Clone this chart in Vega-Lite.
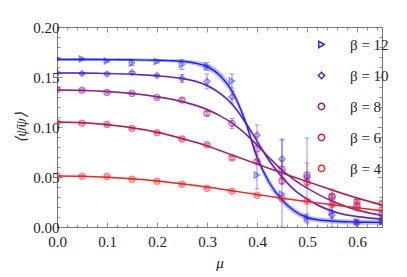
{
"$schema":"https://vega.github.io/schema/vega-lite/v6.json",
"width":325,"height":200,
"autosize":{"type":"none"},
"padding":{"left":57,"top":27,"right":25,"bottom":50},
"background":"white",
"config":{
 "view":{"stroke":"#777","strokeWidth":1},
 "font":"Liberation Serif",
 "axis":{"domain":false,"grid":false,"tickColor":"#777","tickWidth":0.8,"labelFont":"Liberation Serif","labelFontSize":15,"labelColor":"#222","titleFont":"Liberation Serif","titleFontWeight":"normal","titleColor":"#222","labelOverlap":false,"labelFlush":false},
 "legend":{"labelFont":"Liberation Serif","labelFontSize":15,"labelColor":"#222","symbolStrokeWidth":1.5,"symbolSize":40,"rowPadding":15,"labelOffset":21,"symbolOpacity":1}
},
"datasets":{
"curves":[
{"b":"β = 12","m":0,"v":0.1675,"lo":0.166,"hi":0.169},
{"b":"β = 12","m":0.05,"v":0.1675,"lo":0.166,"hi":0.169},
{"b":"β = 12","m":0.1,"v":0.1674,"lo":0.1659,"hi":0.1689},
{"b":"β = 12","m":0.15,"v":0.1672,"lo":0.1657,"hi":0.1687},
{"b":"β = 12","m":0.2,"v":0.1668,"lo":0.1653,"hi":0.1683},
{"b":"β = 12","m":0.225,"v":0.1664,"lo":0.1648,"hi":0.168},
{"b":"β = 12","m":0.25,"v":0.1657,"lo":0.164,"hi":0.1674},
{"b":"β = 12","m":0.275,"v":0.164,"lo":0.1618,"hi":0.1662},
{"b":"β = 12","m":0.3,"v":0.1605,"lo":0.1575,"hi":0.1635},
{"b":"β = 12","m":0.325,"v":0.152,"lo":0.148,"hi":0.156},
{"b":"β = 12","m":0.35,"v":0.136,"lo":0.132,"hi":0.14},
{"b":"β = 12","m":0.375,"v":0.108,"lo":0.104,"hi":0.112},
{"b":"β = 12","m":0.4,"v":0.07,"lo":0.066,"hi":0.074},
{"b":"β = 12","m":0.425,"v":0.044,"lo":0.04,"hi":0.048},
{"b":"β = 12","m":0.45,"v":0.027,"lo":0.0235,"hi":0.0305},
{"b":"β = 12","m":0.475,"v":0.016,"lo":0.013,"hi":0.019},
{"b":"β = 12","m":0.5,"v":0.0095,"lo":0.0068,"hi":0.0122},
{"b":"β = 12","m":0.525,"v":0.007,"lo":0.0045,"hi":0.0095},
{"b":"β = 12","m":0.55,"v":0.006,"lo":0.0035,"hi":0.0085},
{"b":"β = 12","m":0.575,"v":0.0053,"lo":0.0028,"hi":0.0078},
{"b":"β = 12","m":0.6,"v":0.005,"lo":0.0025,"hi":0.0075},
{"b":"β = 12","m":0.625,"v":0.0047,"lo":0.0022,"hi":0.0072},
{"b":"β = 12","m":0.65,"v":0.0045,"lo":0.002,"hi":0.007},
{"b":"β = 10","m":0,"v":0.154,"lo":0.1532,"hi":0.1548},
{"b":"β = 10","m":0.05,"v":0.154,"lo":0.1532,"hi":0.1548},
{"b":"β = 10","m":0.1,"v":0.1535,"lo":0.1527,"hi":0.1543},
{"b":"β = 10","m":0.15,"v":0.1528,"lo":0.152,"hi":0.1536},
{"b":"β = 10","m":0.2,"v":0.1512,"lo":0.1503,"hi":0.1521},
{"b":"β = 10","m":0.25,"v":0.1485,"lo":0.1475,"hi":0.1495},
{"b":"β = 10","m":0.275,"v":0.146,"lo":0.1449,"hi":0.1471},
{"b":"β = 10","m":0.3,"v":0.1415,"lo":0.1403,"hi":0.1427},
{"b":"β = 10","m":0.325,"v":0.134,"lo":0.1325,"hi":0.1355},
{"b":"β = 10","m":0.35,"v":0.123,"lo":0.1212,"hi":0.1248},
{"b":"β = 10","m":0.375,"v":0.106,"lo":0.104,"hi":0.108},
{"b":"β = 10","m":0.4,"v":0.086,"lo":0.084,"hi":0.088},
{"b":"β = 10","m":0.425,"v":0.066,"lo":0.064,"hi":0.068},
{"b":"β = 10","m":0.45,"v":0.05,"lo":0.0482,"hi":0.0518},
{"b":"β = 10","m":0.475,"v":0.037,"lo":0.0354,"hi":0.0386},
{"b":"β = 10","m":0.5,"v":0.028,"lo":0.0266,"hi":0.0294},
{"b":"β = 10","m":0.525,"v":0.021,"lo":0.0198,"hi":0.0222},
{"b":"β = 10","m":0.55,"v":0.016,"lo":0.0149,"hi":0.0171},
{"b":"β = 10","m":0.575,"v":0.0125,"lo":0.0115,"hi":0.0135},
{"b":"β = 10","m":0.6,"v":0.0105,"lo":0.0095,"hi":0.0115},
{"b":"β = 10","m":0.625,"v":0.009,"lo":0.008,"hi":0.01},
{"b":"β = 10","m":0.65,"v":0.008,"lo":0.007,"hi":0.009},
{"b":"β = 8","m":0,"v":0.137,"lo":0.1362,"hi":0.1378},
{"b":"β = 8","m":0.05,"v":0.1366,"lo":0.1358,"hi":0.1374},
{"b":"β = 8","m":0.1,"v":0.1355,"lo":0.1347,"hi":0.1363},
{"b":"β = 8","m":0.15,"v":0.1335,"lo":0.1327,"hi":0.1343},
{"b":"β = 8","m":0.2,"v":0.1303,"lo":0.1295,"hi":0.1311},
{"b":"β = 8","m":0.25,"v":0.1255,"lo":0.1246,"hi":0.1264},
{"b":"β = 8","m":0.3,"v":0.1175,"lo":0.1165,"hi":0.1185},
{"b":"β = 8","m":0.325,"v":0.1115,"lo":0.1104,"hi":0.1126},
{"b":"β = 8","m":0.35,"v":0.104,"lo":0.1028,"hi":0.1052},
{"b":"β = 8","m":0.375,"v":0.094,"lo":0.0927,"hi":0.0953},
{"b":"β = 8","m":0.4,"v":0.082,"lo":0.0806,"hi":0.0834},
{"b":"β = 8","m":0.425,"v":0.069,"lo":0.0676,"hi":0.0704},
{"b":"β = 8","m":0.45,"v":0.057,"lo":0.0557,"hi":0.0583},
{"b":"β = 8","m":0.475,"v":0.047,"lo":0.0458,"hi":0.0482},
{"b":"β = 8","m":0.5,"v":0.039,"lo":0.0379,"hi":0.0401},
{"b":"β = 8","m":0.525,"v":0.032,"lo":0.031,"hi":0.033},
{"b":"β = 8","m":0.55,"v":0.026,"lo":0.0251,"hi":0.0269},
{"b":"β = 8","m":0.575,"v":0.021,"lo":0.0202,"hi":0.0218},
{"b":"β = 8","m":0.6,"v":0.017,"lo":0.0162,"hi":0.0178},
{"b":"β = 8","m":0.625,"v":0.014,"lo":0.0133,"hi":0.0147},
{"b":"β = 8","m":0.65,"v":0.0115,"lo":0.0108,"hi":0.0122},
{"b":"β = 6","m":0,"v":0.105,"lo":0.1043,"hi":0.1057},
{"b":"β = 6","m":0.05,"v":0.1042,"lo":0.1035,"hi":0.1049},
{"b":"β = 6","m":0.1,"v":0.1022,"lo":0.1015,"hi":0.1029},
{"b":"β = 6","m":0.15,"v":0.0993,"lo":0.0986,"hi":0.1},
{"b":"β = 6","m":0.2,"v":0.0948,"lo":0.0941,"hi":0.0955},
{"b":"β = 6","m":0.25,"v":0.0885,"lo":0.0878,"hi":0.0892},
{"b":"β = 6","m":0.3,"v":0.0812,"lo":0.0805,"hi":0.0819},
{"b":"β = 6","m":0.35,"v":0.072,"lo":0.0713,"hi":0.0727},
{"b":"β = 6","m":0.4,"v":0.063,"lo":0.0623,"hi":0.0637},
{"b":"β = 6","m":0.45,"v":0.054,"lo":0.0533,"hi":0.0547},
{"b":"β = 6","m":0.5,"v":0.0455,"lo":0.0448,"hi":0.0462},
{"b":"β = 6","m":0.55,"v":0.037,"lo":0.0363,"hi":0.0377},
{"b":"β = 6","m":0.6,"v":0.029,"lo":0.0283,"hi":0.0297},
{"b":"β = 6","m":0.65,"v":0.022,"lo":0.0213,"hi":0.0227},
{"b":"β = 4","m":0,"v":0.051,"lo":0.0505,"hi":0.0515},
{"b":"β = 4","m":0.05,"v":0.0507,"lo":0.0502,"hi":0.0512},
{"b":"β = 4","m":0.1,"v":0.0498,"lo":0.0493,"hi":0.0503},
{"b":"β = 4","m":0.15,"v":0.0482,"lo":0.0477,"hi":0.0487},
{"b":"β = 4","m":0.2,"v":0.046,"lo":0.0455,"hi":0.0465},
{"b":"β = 4","m":0.25,"v":0.0432,"lo":0.0427,"hi":0.0437},
{"b":"β = 4","m":0.3,"v":0.04,"lo":0.0395,"hi":0.0405},
{"b":"β = 4","m":0.35,"v":0.0363,"lo":0.0358,"hi":0.0368},
{"b":"β = 4","m":0.4,"v":0.0325,"lo":0.032,"hi":0.033},
{"b":"β = 4","m":0.45,"v":0.0288,"lo":0.0283,"hi":0.0293},
{"b":"β = 4","m":0.5,"v":0.0255,"lo":0.025,"hi":0.026},
{"b":"β = 4","m":0.55,"v":0.0222,"lo":0.0217,"hi":0.0227},
{"b":"β = 4","m":0.6,"v":0.0192,"lo":0.0187,"hi":0.0197},
{"b":"β = 4","m":0.65,"v":0.0163,"lo":0.0158,"hi":0.0168}
],
"pts":[
{"b":"β = 12","m":0,"v":0.168,"lo":0.167,"hi":0.169},
{"b":"β = 12","m":0.05,"v":0.168,"lo":0.167,"hi":0.169},
{"b":"β = 12","m":0.1,"v":0.166,"lo":0.165,"hi":0.167},
{"b":"β = 12","m":0.15,"v":0.164,"lo":0.1615,"hi":0.1665},
{"b":"β = 12","m":0.2,"v":0.1655,"lo":0.164,"hi":0.167},
{"b":"β = 12","m":0.25,"v":0.1625,"lo":0.1575,"hi":0.1675},
{"b":"β = 12","m":0.3,"v":0.1605,"lo":0.1565,"hi":0.1645},
{"b":"β = 12","m":0.35,"v":0.146,"lo":0.139,"hi":0.153},
{"b":"β = 12","m":0.4,"v":0.052,"lo":0.038,"hi":0.066},
{"b":"β = 12","m":0.45,"v":0.033,"lo":0.0,"hi":0.087},
{"b":"β = 12","m":0.5,"v":0.009,"lo":0.005,"hi":0.013},
{"b":"β = 12","m":0.55,"v":0.015,"lo":0.009,"hi":0.021},
{"b":"β = 12","m":0.6,"v":0.005,"lo":0.003,"hi":0.007},
{"b":"β = 12","m":0.65,"v":0.005,"lo":0.003,"hi":0.007},
{"b":"β = 10","m":0,"v":0.154,"lo":0.153,"hi":0.155},
{"b":"β = 10","m":0.05,"v":0.1535,"lo":0.1525,"hi":0.1545},
{"b":"β = 10","m":0.1,"v":0.153,"lo":0.152,"hi":0.154},
{"b":"β = 10","m":0.15,"v":0.1545,"lo":0.1535,"hi":0.1555},
{"b":"β = 10","m":0.2,"v":0.1515,"lo":0.1505,"hi":0.1525},
{"b":"β = 10","m":0.25,"v":0.1485,"lo":0.1445,"hi":0.1525},
{"b":"β = 10","m":0.3,"v":0.1455,"lo":0.138,"hi":0.153},
{"b":"β = 10","m":0.35,"v":0.13,"lo":0.124,"hi":0.136},
{"b":"β = 10","m":0.4,"v":0.092,"lo":0.082,"hi":0.102},
{"b":"β = 10","m":0.45,"v":0.068,"lo":0.048,"hi":0.088},
{"b":"β = 10","m":0.5,"v":0.05,"lo":0.004,"hi":0.089},
{"b":"β = 10","m":0.55,"v":0.012,"lo":0.0,"hi":0.024},
{"b":"β = 10","m":0.6,"v":0.004,"lo":0.0,"hi":0.008},
{"b":"β = 10","m":0.65,"v":0.007,"lo":0.004,"hi":0.01},
{"b":"β = 8","m":0,"v":0.1375,"lo":0.1365,"hi":0.1385},
{"b":"β = 8","m":0.05,"v":0.1368,"lo":0.1358,"hi":0.1378},
{"b":"β = 8","m":0.1,"v":0.1345,"lo":0.1335,"hi":0.1355},
{"b":"β = 8","m":0.15,"v":0.1335,"lo":0.1325,"hi":0.1345},
{"b":"β = 8","m":0.2,"v":0.1295,"lo":0.1285,"hi":0.1305},
{"b":"β = 8","m":0.25,"v":0.127,"lo":0.1255,"hi":0.1285},
{"b":"β = 8","m":0.3,"v":0.1135,"lo":0.1115,"hi":0.1155},
{"b":"β = 8","m":0.35,"v":0.1035,"lo":0.0985,"hi":0.1085},
{"b":"β = 8","m":0.4,"v":0.078,"lo":0.072,"hi":0.084},
{"b":"β = 8","m":0.45,"v":0.058,"lo":0.05,"hi":0.066},
{"b":"β = 8","m":0.5,"v":0.052,"lo":0.04,"hi":0.064},
{"b":"β = 8","m":0.55,"v":0.03,"lo":0.022,"hi":0.038},
{"b":"β = 8","m":0.6,"v":0.022,"lo":0.017,"hi":0.027},
{"b":"β = 8","m":0.65,"v":0.013,"lo":0.009,"hi":0.017},
{"b":"β = 6","m":0,"v":0.1045,"lo":0.1037,"hi":0.1053},
{"b":"β = 6","m":0.05,"v":0.1038,"lo":0.103,"hi":0.1046},
{"b":"β = 6","m":0.1,"v":0.1025,"lo":0.1017,"hi":0.1033},
{"b":"β = 6","m":0.15,"v":0.0985,"lo":0.0977,"hi":0.0993},
{"b":"β = 6","m":0.2,"v":0.0943,"lo":0.0935,"hi":0.0951},
{"b":"β = 6","m":0.25,"v":0.088,"lo":0.087,"hi":0.089},
{"b":"β = 6","m":0.3,"v":0.0822,"lo":0.0812,"hi":0.0832},
{"b":"β = 6","m":0.35,"v":0.069,"lo":0.0675,"hi":0.0705},
{"b":"β = 6","m":0.4,"v":0.0655,"lo":0.0635,"hi":0.0675},
{"b":"β = 6","m":0.45,"v":0.046,"lo":0.043,"hi":0.049},
{"b":"β = 6","m":0.5,"v":0.045,"lo":0.042,"hi":0.048},
{"b":"β = 6","m":0.55,"v":0.031,"lo":0.029,"hi":0.033},
{"b":"β = 6","m":0.6,"v":0.0255,"lo":0.0235,"hi":0.0275},
{"b":"β = 6","m":0.65,"v":0.0238,"lo":0.0218,"hi":0.0258},
{"b":"β = 4","m":0,"v":0.0512,"lo":0.0506,"hi":0.0518},
{"b":"β = 4","m":0.05,"v":0.0508,"lo":0.0502,"hi":0.0514},
{"b":"β = 4","m":0.1,"v":0.0505,"lo":0.0499,"hi":0.0511},
{"b":"β = 4","m":0.15,"v":0.0478,"lo":0.0472,"hi":0.0484},
{"b":"β = 4","m":0.2,"v":0.0457,"lo":0.0451,"hi":0.0463},
{"b":"β = 4","m":0.25,"v":0.0427,"lo":0.0421,"hi":0.0433},
{"b":"β = 4","m":0.3,"v":0.0387,"lo":0.0381,"hi":0.0393},
{"b":"β = 4","m":0.35,"v":0.0357,"lo":0.0351,"hi":0.0363},
{"b":"β = 4","m":0.4,"v":0.0317,"lo":0.0311,"hi":0.0323},
{"b":"β = 4","m":0.45,"v":0.0285,"lo":0.0279,"hi":0.0291},
{"b":"β = 4","m":0.5,"v":0.0257,"lo":0.0251,"hi":0.0263},
{"b":"β = 4","m":0.55,"v":0.0225,"lo":0.0219,"hi":0.0231},
{"b":"β = 4","m":0.6,"v":0.019,"lo":0.0184,"hi":0.0196},
{"b":"β = 4","m":0.65,"v":0.0167,"lo":0.0161,"hi":0.0173}
]
},
"resolve":{"axis":{"x":"independent","y":"independent"}},
"layer":[
{"data":{"name":"curves"},"mark":{"type":"area","opacity":0.3,"interpolate":"monotone","clip":true},
 "encoding":{
  "x":{"field":"m","type":"quantitative","scale":{"domain":[0,0.65],"nice":false,"zero":false},"axis":null},
  "y":{"field":"lo","type":"quantitative","scale":{"domain":[0,0.2],"nice":false},"axis":null},
  "y2":{"field":"hi"},
  "color":{"field":"b","type":"nominal","legend":null,"scale":{"domain":["β = 4","β = 6","β = 8","β = 10","β = 12"],"range":["#ff1f1f","#c4124d","#8a1a8a","#5520d0","#1a1aff"]}}
 }},
{"data":{"name":"curves"},"mark":{"type":"line","strokeWidth":1.4,"interpolate":"monotone","clip":true},
 "encoding":{
  "x":{"field":"m","type":"quantitative","axis":{"orient":"bottom","title":"μ","titleFontStyle":"italic","titleFontSize":15,"titlePadding":4,"values":[0,0.02,0.04,0.06,0.08,0.1,0.12,0.14,0.16,0.18,0.2,0.22,0.24,0.26,0.28,0.3,0.32,0.34,0.36,0.38,0.4,0.42,0.44,0.46,0.48,0.5,0.52,0.54,0.56,0.58,0.6,0.62,0.64],"labelExpr":"abs(datum.value*10-round(datum.value*10))<0.001 ? format(datum.value,'.1f') : ''","tickSize":{"condition":{"test":"abs(datum.value*10-round(datum.value*10))<0.001","value":-5},"value":-3},"labelPadding":12}},
  "y":{"field":"v","type":"quantitative","axis":{"orient":"left","title":"⟨ψ̄ψ⟩","titleFontStyle":"italic","titleFontSize":15,"titlePadding":4,"values":[0,0.01,0.02,0.03,0.04,0.05,0.06,0.07,0.08,0.09,0.1,0.11,0.12,0.13,0.14,0.15,0.16,0.17,0.18,0.19,0.2],"labelExpr":"abs(datum.value*20-round(datum.value*20))<0.001 ? format(datum.value,'.2f') : ''","tickSize":{"condition":{"test":"abs(datum.value*20-round(datum.value*20))<0.001","value":-5},"value":-3},"labelPadding":3}},
  "color":{"field":"b","type":"nominal","legend":null}
 }},
{"data":{"name":"pts"},"mark":{"type":"rule","opacity":0.45,"strokeWidth":1.1,"clip":true},
 "encoding":{
  "x":{"field":"m","type":"quantitative","axis":null},
  "y":{"field":"lo","type":"quantitative","axis":null},
  "y2":{"field":"hi"},
  "color":{"field":"b","type":"nominal","legend":null}
 }},
{"data":{"name":"pts"},"mark":{"type":"tick","orient":"horizontal","size":5,"thickness":1,"opacity":0.45,"clip":true},
 "encoding":{
  "x":{"field":"m","type":"quantitative","axis":null},
  "y":{"field":"lo","type":"quantitative","axis":null},
  "color":{"field":"b","type":"nominal","legend":null}
 }},
{"data":{"name":"pts"},"mark":{"type":"tick","orient":"horizontal","size":5,"thickness":1,"opacity":0.45,"clip":true},
 "encoding":{
  "x":{"field":"m","type":"quantitative","axis":null},
  "y":{"field":"hi","type":"quantitative","axis":null},
  "color":{"field":"b","type":"nominal","legend":null}
 }},
{"data":{"name":"pts"},"transform":[{"filter":"datum.b == 'β = 12'"}],"mark":{"type":"point","shape":"triangle-right","filled":true,"opacity":0.25,"size":40,"clip":true},
 "encoding":{
  "x":{"field":"m","type":"quantitative","axis":null},
  "y":{"field":"v","type":"quantitative","axis":null},
  "color":{"field":"b","type":"nominal","legend":null}
 }},
{"data":{"name":"pts"},"transform":[{"filter":"datum.b == 'β = 10'"}],"mark":{"type":"point","shape":"diamond","filled":true,"opacity":0.25,"size":40,"clip":true},
 "encoding":{
  "x":{"field":"m","type":"quantitative","axis":null},
  "y":{"field":"v","type":"quantitative","axis":null},
  "color":{"field":"b","type":"nominal","legend":null}
 }},
{"data":{"name":"pts"},"transform":[{"filter":"datum.b != 'β = 12' && datum.b != 'β = 10'"}],"mark":{"type":"point","shape":"circle","filled":true,"opacity":0.25,"size":40,"clip":true},
 "encoding":{
  "x":{"field":"m","type":"quantitative","axis":null},
  "y":{"field":"v","type":"quantitative","axis":null},
  "color":{"field":"b","type":"nominal","legend":null}
 }},
{"data":{"name":"pts"},"mark":{"type":"point","filled":false,"opacity":0.5,"strokeWidth":1.3,"size":40,"clip":true},
 "encoding":{
  "x":{"field":"m","type":"quantitative","axis":{"orient":"top","labels":false,"title":null,"values":[0,0.02,0.04,0.06,0.08,0.1,0.12,0.14,0.16,0.18,0.2,0.22,0.24,0.26,0.28,0.3,0.32,0.34,0.36,0.38,0.4,0.42,0.44,0.46,0.48,0.5,0.52,0.54,0.56,0.58,0.6,0.62,0.64],"tickSize":{"condition":{"test":"abs(datum.value*10-round(datum.value*10))<0.001","value":-5},"value":-3}}},
  "y":{"field":"v","type":"quantitative","axis":{"orient":"right","labels":false,"title":null,"values":[0,0.01,0.02,0.03,0.04,0.05,0.06,0.07,0.08,0.09,0.1,0.11,0.12,0.13,0.14,0.15,0.16,0.17,0.18,0.19,0.2],"tickSize":{"condition":{"test":"abs(datum.value*20-round(datum.value*20))<0.001","value":-5},"value":-3}}},
  "stroke":{"field":"b","type":"nominal","scale":{"domain":["β = 12","β = 10","β = 8","β = 6","β = 4"],"range":["#2a2aff","#5a22d4","#8a1e8a","#c81a50","#ff2020"]},"legend":{"title":null,"orient":"none","legendX":257,"legendY":10}},
  "shape":{"field":"b","type":"nominal","scale":{"domain":["β = 12","β = 10","β = 8","β = 6","β = 4"],"range":["triangle-right","diamond","circle","circle","circle"]},"legend":{"title":null,"orient":"none","legendX":257,"legendY":10}}
 }}
]
}
